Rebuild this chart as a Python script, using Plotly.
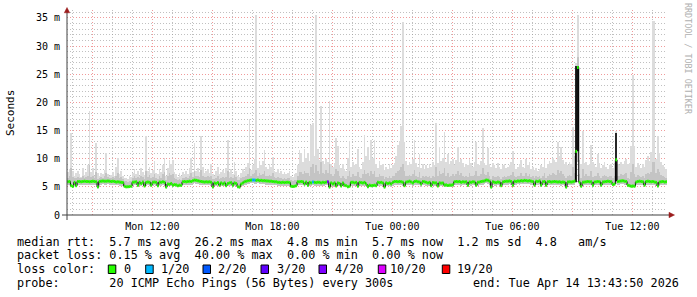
import plotly.graph_objects as go
import pandas as pd

# ---------------- data ----------------
start_time = "2026-04-13 07:44:00"
axis_start = "2026-04-13 07:43:50"
axis_end = "2026-04-14 13:43:50"
step_minutes = 5

median = [
    5.9, 5.95, 5.2, 5.05, 5.8, 5.2, 5.95, 5.95, 5.9, 5.95, 6.0, 5.95,
    5.95, 5.9, 5.95, 6.0, 5.95, 5.9, 4.95, 5.95, 6.0, 6.05, 6.0, 6.0,
    6.05, 6.0, 5.95, 6.0, 5.95, 5.85, 5.9, 5.85, 5.8, 5.75, 5.1, 5.0,
    5.0, 5.05, 5.1, 5.8, 5.85, 5.9, 5.3, 5.8, 5.6, 5.85, 5.15, 5.8,
    5.85, 5.8, 5.3, 5.8, 5.85, 5.8, 5.2, 5.85, 5.8, 5.9, 5.8, 4.95,
    5.5, 5.45, 5.6, 5.3, 5.4, 5.35, 5.2, 5.3, 5.25, 5.9, 5.95, 5.9,
    5.95, 6.0, 5.95, 6.1, 6.2, 6.15, 6.1, 6.0, 5.95, 5.9, 5.85, 5.9,
    5.85, 5.9, 5.8, 4.95, 5.7, 5.6, 5.75, 5.3, 5.7, 5.5, 5.7, 5.2,
    5.6, 5.7, 5.75, 5.3, 5.7, 5.6, 5.0, 4.95, 5.5, 5.7, 5.9, 6.0,
    6.1, 6.15, 6.2, 6.2, 6.2, 6.15, 6.2, 6.1, 6.15, 6.1, 6.1, 6.05,
    6.05, 6.0, 6.0, 5.95, 5.9, 5.9, 5.8, 5.8, 5.75, 5.8, 5.75, 5.8,
    5.8, 5.75, 5.1, 5.05, 5.1, 5.2, 5.9, 5.9, 5.95, 5.9, 5.5, 5.85,
    5.3, 5.8, 5.7, 5.85, 5.8, 5.75, 5.8, 5.8, 5.7, 5.8, 5.75, 5.85,
    5.9, 4.95, 5.7, 5.5, 5.7, 5.15, 5.7, 5.6, 5.15, 5.7, 5.3, 5.2,
    5.0, 5.1, 5.8, 5.8, 5.7, 5.8, 5.1, 5.8, 5.75, 5.7, 5.8, 5.5,
    5.0, 5.3, 5.2, 5.25, 5.3, 5.2, 5.8, 5.75, 5.8, 5.7, 4.95, 5.7,
    5.6, 5.7, 5.5, 5.8, 5.95, 5.95, 5.9, 5.95, 5.9, 5.8, 5.2, 5.85,
    5.9, 6.0, 5.85, 5.7, 5.95, 6.0, 5.9, 5.85, 5.5, 5.95, 5.9, 5.8,
    5.7, 5.8, 5.2, 5.75, 5.7, 5.7, 5.15, 5.7, 5.65, 5.7, 5.3, 5.35,
    5.25, 5.3, 5.3, 5.35, 5.9, 5.95, 5.9, 5.95, 5.8, 5.9, 5.85, 5.9,
    5.3, 5.85, 5.8, 5.9, 5.85, 5.3, 5.8, 5.85, 5.95, 6.0, 6.05, 6.2,
    6.15, 6.0, 4.95, 5.9, 5.8, 5.75, 5.85, 5.8, 5.2, 5.85, 5.95, 6.0,
    6.0, 6.05, 5.95, 5.3, 6.0, 5.95, 6.05, 6.0, 6.1, 6.05, 6.15, 6.1,
    6.05, 6.1, 6.0, 5.95, 5.3, 6.0, 5.95, 6.05, 5.3, 5.9, 5.95, 5.3,
    5.9, 5.95, 5.85, 5.9, 5.95, 5.9, 5.85, 5.9, 5.8, 5.85, 5.8, 4.95,
    5.85, 5.9, 5.85, 5.9, 6.0, 11.3, 26.2, 5.8, 5.1, 5.8, 5.85, 5.9,
    5.95, 5.9, 5.9, 5.3, 5.85, 5.9, 5.95, 5.9, 5.3, 5.85, 5.9, 5.95,
    6.0, 5.95, 5.9, 5.4, 5.5, 9.8, 5.95, 6.0, 6.05, 6.1, 6.0, 5.95,
    5.3, 5.2, 5.1, 5.15, 5.1, 5.85, 5.95, 6.0, 5.95, 5.9, 5.3, 5.95,
    6.0, 5.95, 5.9, 5.95, 5.85, 5.8, 5.15, 5.85, 5.9, 5.95, 5.85, 5.9,
]

ping_min = [
    5.3, 5.4, 4.9, 4.9, 5.3, 4.9, 5.4, 5.3, 5.3, 5.4, 5.4, 5.3,
    5.4, 5.3, 5.4, 5.4, 5.3, 5.3, 4.8, 5.4, 5.4, 5.5, 5.4, 5.4,
    5.5, 5.4, 5.4, 5.4, 5.3, 5.3, 5.3, 5.2, 5.2, 5.2, 4.9, 4.8,
    4.8, 4.9, 4.9, 5.2, 5.3, 5.3, 5.0, 5.2, 5.1, 5.3, 4.9, 5.2,
    5.3, 5.2, 5.0, 5.2, 5.3, 5.2, 4.9, 5.3, 5.2, 5.3, 5.2, 4.8,
    5.1, 5.1, 5.2, 5.0, 5.1, 5.0, 4.9, 5.0, 5.0, 5.3, 5.4, 5.3,
    5.4, 5.4, 5.3, 5.5, 5.6, 5.5, 5.5, 5.4, 5.4, 5.3, 5.3, 5.3,
    5.3, 5.3, 5.2, 4.8, 5.2, 5.1, 5.2, 5.0, 5.2, 5.1, 5.2, 4.9,
    5.1, 5.2, 5.2, 5.0, 5.2, 5.1, 4.8, 4.8, 5.1, 5.2, 5.3, 5.4,
    5.5, 5.5, 5.6, 5.6, 5.5, 5.5, 5.6, 5.5, 5.5, 5.5, 5.5, 5.4,
    5.4, 5.4, 5.4, 5.3, 5.3, 5.3, 5.2, 5.2, 5.2, 5.2, 5.2, 5.2,
    5.2, 5.2, 4.9, 4.8, 4.9, 4.9, 5.3, 5.3, 5.4, 5.3, 5.0, 5.3,
    5.0, 5.2, 5.1, 5.3, 5.2, 5.2, 5.2, 5.2, 5.1, 5.2, 5.2, 5.3,
    5.3, 4.8, 5.1, 5.0, 5.1, 4.9, 5.1, 5.1, 4.9, 5.1, 5.0, 4.9,
    4.8, 4.9, 5.2, 5.2, 5.1, 5.2, 4.9, 5.2, 5.2, 5.1, 5.2, 5.1,
    4.8, 5.0, 4.9, 5.0, 5.0, 4.9, 5.2, 5.2, 5.2, 5.1, 4.8, 5.1,
    5.1, 5.1, 5.0, 5.2, 5.3, 5.3, 5.3, 5.3, 5.3, 5.2, 4.9, 5.3,
    5.3, 5.4, 5.3, 5.1, 5.3, 5.4, 5.3, 5.3, 5.0, 5.3, 5.3, 5.2,
    5.1, 5.2, 4.9, 5.2, 5.1, 5.1, 4.9, 5.1, 5.1, 5.1, 5.0, 5.0,
    5.0, 5.0, 5.0, 5.0, 5.3, 5.4, 5.3, 5.4, 5.2, 5.3, 5.3, 5.3,
    5.0, 5.3, 5.2, 5.3, 5.3, 5.0, 5.2, 5.3, 5.4, 5.4, 5.5, 5.6,
    5.5, 5.4, 4.8, 5.3, 5.2, 5.2, 5.3, 5.2, 4.9, 5.3, 5.4, 5.4,
    5.4, 5.5, 5.4, 5.0, 5.4, 5.4, 5.5, 5.4, 5.5, 5.5, 5.5, 5.5,
    5.5, 5.5, 5.4, 5.4, 5.0, 5.4, 5.4, 5.5, 5.0, 5.3, 5.4, 5.0,
    5.3, 5.4, 5.3, 5.3, 5.4, 5.3, 5.3, 5.3, 5.2, 5.3, 5.2, 4.8,
    5.3, 5.3, 5.3, 5.3, 5.4, 5.6, 9.5, 5.2, 4.9, 5.2, 5.3, 5.3,
    5.4, 5.3, 5.3, 5.0, 5.3, 5.3, 5.4, 5.3, 5.0, 5.3, 5.3, 5.4,
    5.4, 5.4, 5.3, 5.1, 5.1, 5.5, 5.4, 5.4, 5.5, 5.5, 5.4, 5.4,
    5.0, 4.9, 4.9, 4.9, 4.9, 5.3, 5.4, 5.4, 5.4, 5.3, 5.0, 5.4,
    5.4, 5.4, 5.3, 5.4, 5.3, 5.2, 4.9, 5.3, 5.3, 5.4, 5.3, 5.3,
]

ping_max = [
    7.6, 8.2, 14.6, 7.8, 7.0, 7.4, 7.9, 7.2, 6.8, 8.4, 7.1, 7.6,
    8.8, 18.4, 7.7, 8.3, 7.0, 12.8, 7.4, 6.9, 7.5, 7.2, 8.0, 11.0,
    7.3, 6.9, 7.1, 7.6, 7.0, 8.6, 10.2, 7.3, 7.8, 6.9, 6.5, 6.6,
    6.4, 7.0, 6.8, 7.5, 8.1, 7.2, 7.8, 6.9, 8.4, 7.6, 7.1, 14.1,
    7.9, 8.6, 7.4, 8.0, 9.6, 7.5, 7.2, 8.2, 7.6, 8.8, 10.1, 7.0,
    8.4, 9.8, 9.0, 9.8, 7.6, 7.2, 6.8, 7.4, 6.9, 7.7, 7.3, 7.8,
    7.2, 8.3, 10.1, 7.6, 12.8, 7.9, 8.4, 7.7, 14.1, 8.6, 7.5, 7.9,
    8.2, 7.4, 9.0, 7.3, 7.0, 7.9, 8.6, 7.2, 7.6, 8.0, 7.4, 8.3,
    13.4, 7.6, 8.1, 7.3, 9.5, 7.8, 7.0, 6.8, 7.5, 8.2, 7.9, 8.6,
    9.2, 17.0, 8.0, 8.8, 10.0, 35.6, 8.4, 9.6, 8.9, 9.6, 11.5, 8.5,
    8.2, 9.0, 8.6, 10.3, 7.9, 7.6, 8.1, 7.4, 7.8, 7.2, 7.6, 7.3,
    7.5, 7.9, 7.0, 6.8, 7.2, 7.4, 8.8, 11.5, 11.0, 9.4, 11.7, 10.2,
    11.0, 9.6, 16.0, 16.4, 10.5, 35.6, 11.7, 9.8, 19.3, 9.6, 9.0, 10.0,
    9.4, 20.3, 9.0, 8.6, 9.2, 13.7, 12.3, 8.8, 8.4, 9.0, 8.2, 7.8,
    10.1, 13.2, 8.6, 9.4, 8.8, 9.0, 11.7, 8.6, 8.2, 9.4, 14.2, 10.5,
    12.0, 9.8, 13.4, 10.2, 13.4, 9.0, 8.4, 9.6, 8.8, 9.1, 8.0, 8.6,
    8.2, 9.0, 8.4, 8.8, 9.3, 10.4, 12.5, 13.2, 15.8, 34.2, 13.0, 9.6,
    8.8, 9.4, 9.0, 10.0, 13.4, 9.2, 8.6, 10.8, 8.4, 9.0, 8.2, 8.8,
    8.4, 9.0, 8.6, 9.4, 8.8, 16.4, 9.2, 12.1, 9.6, 10.2, 14.7, 9.4,
    10.8, 9.0, 9.6, 10.0, 8.8, 9.8, 12.1, 9.4, 10.0, 9.2, 8.6, 9.0,
    8.8, 10.0, 9.2, 8.6, 9.4, 12.9, 9.0, 8.8, 9.6, 15.4, 9.2, 8.8,
    11.9, 9.0, 8.6, 9.2, 8.8, 8.4, 9.2, 8.6, 8.2, 8.8, 9.0, 8.4,
    8.6, 8.8, 9.4, 11.3, 8.8, 8.2, 8.6, 9.0, 9.7, 8.6, 8.4, 10.0,
    8.8, 9.4, 8.2, 8.6, 8.0, 8.4, 7.8, 8.2, 8.8, 8.6, 10.0, 8.4,
    9.0, 9.6, 9.2, 10.2, 9.8, 9.4, 12.9, 10.4, 12.1, 9.8, 9.0, 9.5,
    8.8, 9.4, 9.0, 15.7, 10.4, 27.0, 35.6, 9.8, 9.0, 14.9, 9.2, 9.5,
    8.8, 9.0, 12.5, 9.4, 9.0, 8.6, 10.8, 9.2, 8.4, 8.8, 9.4, 8.6,
    8.2, 8.8, 9.0, 8.4, 9.2, 14.9, 9.0, 8.8, 9.4, 9.0, 9.6, 10.0,
    9.0, 9.2, 12.3, 24.9, 12.3, 8.6, 9.2, 8.8, 8.4, 9.0, 8.6, 9.8,
    10.4, 9.6, 11.2, 34.4, 34.4, 10.0, 14.1, 11.0, 9.4, 8.8, 8.6, 8.2,
]

band_top = [
    6.6, 6.9, 8.4, 6.8, 6.5, 6.6, 6.8, 6.6, 6.5, 6.9, 6.6, 6.7,
    7.0, 8.8, 6.8, 7.0, 6.6, 7.6, 6.4, 6.6, 6.7, 6.6, 6.9, 7.4,
    6.7, 6.6, 6.6, 6.8, 6.5, 7.0, 7.4, 6.6, 6.7, 6.4, 6.0, 6.0,
    5.9, 6.1, 6.1, 6.6, 6.9, 6.6, 6.8, 6.5, 7.0, 6.7, 6.4, 7.8,
    6.8, 7.1, 6.6, 6.8, 7.2, 6.6, 6.4, 6.9, 6.6, 7.2, 7.6, 6.3,
    7.0, 7.4, 7.1, 7.2, 6.6, 6.4, 6.2, 6.4, 6.2, 6.6, 6.6, 6.7,
    6.6, 6.9, 7.4, 6.8, 7.8, 6.9, 7.0, 6.8, 8.0, 7.0, 6.7, 6.8,
    6.9, 6.7, 7.0, 6.4, 6.4, 6.6, 6.9, 6.4, 6.6, 6.7, 6.5, 6.8,
    7.8, 6.6, 6.8, 6.5, 7.1, 6.7, 6.3, 6.2, 6.5, 6.8, 6.8, 7.0,
    7.2, 8.4, 6.9, 7.2, 7.4, 8.0, 7.0, 7.4, 7.1, 7.3, 7.8, 7.0,
    6.9, 7.1, 6.9, 7.4, 6.7, 6.6, 6.7, 6.5, 6.6, 6.4, 6.5, 6.4,
    6.5, 6.6, 6.2, 6.0, 6.2, 6.3, 6.9, 7.6, 7.6, 7.2, 7.8, 7.4,
    7.4, 7.0, 8.6, 9.0, 7.4, 8.8, 7.8, 7.2, 9.4, 7.4, 7.2, 8.0,
    7.4, 9.0, 7.2, 6.9, 7.2, 8.2, 7.8, 6.9, 6.6, 7.0, 6.6, 6.4,
    7.0, 7.8, 6.8, 7.2, 6.9, 7.0, 7.6, 6.8, 6.6, 7.2, 8.0, 7.2,
    7.4, 7.0, 7.8, 7.2, 7.8, 6.8, 6.8, 7.2, 6.9, 7.0, 6.4, 6.8,
    6.6, 6.9, 6.6, 6.9, 7.0, 7.4, 7.8, 8.0, 8.6, 9.0, 7.8, 7.0,
    6.9, 7.1, 6.9, 7.2, 8.0, 7.0, 6.8, 7.6, 6.6, 7.0, 6.7, 6.9,
    6.7, 6.9, 6.5, 7.0, 6.8, 8.6, 7.0, 7.8, 7.2, 7.4, 8.4, 7.0,
    7.4, 6.8, 7.0, 7.2, 7.0, 7.2, 7.8, 7.1, 7.4, 7.0, 6.8, 7.0,
    6.7, 7.4, 7.0, 6.9, 7.1, 7.8, 6.9, 6.9, 7.2, 8.4, 7.2, 7.1,
    7.6, 7.0, 6.4, 7.0, 6.8, 6.7, 7.0, 6.8, 6.4, 6.8, 7.0, 6.8,
    6.9, 7.0, 7.1, 7.6, 6.9, 6.7, 6.9, 7.0, 7.4, 6.9, 6.9, 7.4,
    7.0, 7.2, 6.8, 6.9, 6.5, 6.9, 6.7, 6.9, 6.6, 6.9, 7.4, 6.6,
    7.0, 7.2, 7.1, 7.4, 7.3, 7.1, 8.0, 7.4, 7.8, 7.2, 7.0, 6.6,
    6.9, 7.1, 7.0, 8.6, 7.4, 12.0, 28.0, 7.2, 6.6, 8.2, 7.0, 7.2,
    7.0, 7.0, 7.8, 6.8, 7.0, 6.9, 7.4, 7.0, 6.6, 6.9, 7.1, 6.9,
    6.8, 7.0, 7.0, 6.6, 7.0, 14.6, 7.0, 7.0, 7.2, 7.1, 7.2, 7.4,
    6.6, 6.4, 7.6, 9.0, 7.2, 6.8, 7.1, 7.0, 6.8, 7.0, 6.6, 7.2,
    7.4, 7.2, 7.6, 9.4, 9.4, 7.4, 8.2, 7.6, 7.1, 6.9, 6.8, 6.6,
]

# dense (dark) smoke cores
core_steps = [305, 306, 329]
core_lo = [5.8, 11.3, 6.0]
core_hi = [26.4, 26.4, 14.6]

# steps with packet loss (lost pings out of 20)
loss_steps = [111, 112, 147, 156]
loss_counts = [1, 1, 1, 8]

loss_thresholds = [0, 1, 2, 3, 4, 10, 19]
loss_labels = ["0", "1/20", "2/20", "3/20", "4/20", "10/20", "19/20"]
loss_colors = ["#26ff00", "#00b8ff", "#0059ff", "#5e00ff", "#7e00ff", "#dd00ff", "#ff0000"]

y_tick_values = [0, 5, 10, 15, 20, 25, 30, 35]
y_tick_labels = ["0", "5 m", "10 m", "15 m", "20 m", "25 m", "30 m", "35 m"]
y_minor_values = [1, 2, 3, 4, 6, 7, 8, 9, 11, 12, 13, 14, 16, 17, 18, 19,
                  21, 22, 23, 24, 26, 27, 28, 29, 31, 32, 33, 34, 36]
x_tick_values = ["2026-04-13 09:00", "2026-04-13 12:00", "2026-04-13 15:00", "2026-04-13 18:00",
                 "2026-04-13 21:00", "2026-04-14 00:00", "2026-04-14 03:00", "2026-04-14 06:00",
                 "2026-04-14 09:00", "2026-04-14 12:00"]
x_tick_labels = ["", "Mon 12:00", "", "Mon 18:00", "", "Tue 00:00", "", "Tue 06:00", "", "Tue 12:00"]
x_minor_values = ["2026-04-13 08:00", "2026-04-13 10:00", "2026-04-13 11:00", "2026-04-13 13:00",
                  "2026-04-13 14:00", "2026-04-13 16:00", "2026-04-13 17:00", "2026-04-13 19:00",
                  "2026-04-13 20:00", "2026-04-13 22:00", "2026-04-13 23:00", "2026-04-14 01:00",
                  "2026-04-14 02:00", "2026-04-14 04:00", "2026-04-14 05:00", "2026-04-14 07:00",
                  "2026-04-14 08:00", "2026-04-14 10:00", "2026-04-14 11:00", "2026-04-14 13:00"]

legend_lines = [
    "median rtt:  5.7 ms avg  26.2 ms max  4.8 ms min  5.7 ms now  1.2 ms sd  4.8   am/s",
    "packet loss: 0.15 % avg  40.00 % max  0.00 % min  0.00 % now",
]
probe_text = "probe:       20 ICMP Echo Pings (56 Bytes) every 300s"
end_text = "end: Tue Apr 14 13:43:50 2026"

# ---------------- geometry ----------------
W, H = 697, 297
ML, MR, MT, MB = 67, 30, 10, 82
PW, PH = W - ML - MR, H - MT - MB


def px(x):
    return (x - ML) / PW


def py(y):
    return (H - MB - y) / PH


step = pd.Timedelta(minutes=step_minutes)
t0 = pd.Timestamp(start_time)
times = [t0 + step * i for i in range(len(median))]
centers = [t + step / 2 for t in times]
step_ms = step_minutes * 60 * 1000

fig = go.Figure()

# smoke: full range (light)
fig.add_trace(go.Bar(x=centers, y=[mx - mn for mx, mn in zip(ping_max, ping_min)], base=ping_min,
                     width=step_ms, marker=dict(color="#dcdcdc", line=dict(width=0)), hoverinfo="skip"))
# smoke: inner band (medium)
fig.add_trace(go.Bar(x=centers, y=[b - mn for b, mn in zip(band_top, ping_min)], base=ping_min,
                     width=step_ms, marker=dict(color="#c4c4c4", line=dict(width=0)), hoverinfo="skip"))
# smoke: dense cores (dark)
fig.add_trace(go.Bar(x=[centers[i] for i in core_steps], y=[h - l for h, l in zip(core_hi, core_lo)],
                     base=core_lo, width=step_ms, marker=dict(color="#262626", line=dict(width=0)),
                     hoverinfo="skip"))

# black median connector line
fig.add_trace(go.Scatter(x=times + [times[-1] + step], y=median + [median[-1]], mode="lines",
                         line=dict(color="black", width=1, shape="hv"), hoverinfo="skip"))

# median coloured by loss
loss_at = dict(zip(loss_steps, loss_counts))


def color_index(lost):
    idx = 0
    for k, th in enumerate(loss_thresholds):
        if lost >= th:
            idx = k
    return idx


groups = {}
for i, m in enumerate(median):
    ci = color_index(loss_at.get(i, 0))
    gx, gy = groups.setdefault(ci, ([], []))
    gx += [times[i], times[i] + step, None]
    gy += [m, m, None]
for ci, (gx, gy) in sorted(groups.items()):
    fig.add_trace(go.Scatter(x=gx, y=gy, mode="lines", line=dict(color=loss_colors[ci], width=3),
                             hoverinfo="skip"))

major_grid = "rgba(235,120,120,0.75)"
minor_grid = "rgba(150,150,150,0.6)"
tick_font = dict(family="DejaVu Sans Mono", size=10, color="#000000")

fig.update_layout(
    width=W, height=H, margin=dict(l=ML, r=MR, t=MT, b=MB),
    paper_bgcolor="white", plot_bgcolor="white",
    showlegend=False, barmode="overlay", bargap=0, hovermode=False,
    xaxis=dict(type="date", range=[axis_start, axis_end], tickmode="array",
               tickvals=x_tick_values, ticktext=x_tick_labels, tickfont=tick_font,
               showgrid=True, gridcolor=major_grid, griddash="1px,2px", gridwidth=1,
               ticks="outside", ticklen=2, tickcolor="rgba(0,0,0,0)",
               minor=dict(tickmode="array", tickvals=x_minor_values, showgrid=True,
                          gridcolor=minor_grid, griddash="1px,2px", gridwidth=1, ticks=""),
               showline=False, zeroline=False, fixedrange=True),
    yaxis=dict(range=[0, 36.4], tickmode="array", tickvals=y_tick_values, ticktext=y_tick_labels,
               tickfont=tick_font, showgrid=True, gridcolor=major_grid, griddash="1px,2px",
               ticks="outside", ticklen=4, tickcolor="rgba(0,0,0,0)",
               minor=dict(tickmode="array", tickvals=y_minor_values, showgrid=True,
                          gridcolor=minor_grid, griddash="1px,2px", ticks=""),
               showline=False, zeroline=False, fixedrange=True),
)

axis_col = "#404040"
arrow_col = "#9b1c1c"
shapes = [
    dict(type="line", xref="paper", yref="paper", x0=px(62), x1=px(669), y0=py(215), y1=py(215),
         line=dict(color=axis_col, width=1)),
    dict(type="line", xref="paper", yref="paper", x0=px(67), x1=px(67), y0=py(220), y1=py(12),
         line=dict(color=axis_col, width=1)),
    dict(type="path", xref="paper", yref="paper",
         path=f"M {px(64.3)} {py(12.8)} L {px(69.7)} {py(12.8)} L {px(67)} {py(7.5)} Z",
         fillcolor=arrow_col, line=dict(color=arrow_col, width=0.5)),
    dict(type="path", xref="paper", yref="paper",
         path=f"M {px(669)} {py(212.3)} L {px(669)} {py(217.7)} L {px(674.5)} {py(215)} Z",
         fillcolor=arrow_col, line=dict(color=arrow_col, width=0.5)),
]

legend_font = dict(family="DejaVu Sans Mono", size=11.8, color="#000000")
box_x = [108.3, 145.7, 203.0, 261.0, 319.0, 378.3, 442.3]
label_x = [122.8, 159.6, 217.3, 275.5, 333.5, 389.0, 456.4]
for bx, col in zip(box_x, loss_colors):
    shapes.append(dict(type="rect", xref="paper", yref="paper", x0=px(bx), x1=px(bx + 7.5),
                       y0=py(273.5), y1=py(265), fillcolor=col, line=dict(color="black", width=1)))

nb = "\u00a0"
annotations = []
line_y = [241.5, 255.0]
for txt, yy in zip(legend_lines, line_y):
    annotations.append(dict(text=txt.replace(" ", nb), x=px(15), y=py(yy), xref="paper", yref="paper",
                            xanchor="left", yanchor="middle", showarrow=False, font=legend_font))
annotations.append(dict(text="loss color:".replace(" ", nb), x=px(15), y=py(269.3), xref="paper",
                        yref="paper", xanchor="left", yanchor="middle", showarrow=False, font=legend_font))
for lx, lab in zip(label_x, loss_labels):
    annotations.append(dict(text=lab, x=px(lx - 1), y=py(269.3), xref="paper", yref="paper",
                            xanchor="left", yanchor="middle", showarrow=False, font=legend_font))
annotations.append(dict(text=probe_text.replace(" ", nb), x=px(15), y=py(282.5), xref="paper",
                        yref="paper", xanchor="left", yanchor="middle", showarrow=False, font=legend_font))
annotations.append(dict(text=end_text.replace(" ", nb), x=px(681), y=py(282.5), xref="paper",
                        yref="paper", xanchor="right", yanchor="middle", showarrow=False, font=legend_font))
annotations.append(dict(text="Seconds", x=px(10), y=py(113), xref="paper", yref="paper",
                        xanchor="center", yanchor="middle", textangle=-90, showarrow=False,
                        font=dict(family="DejaVu Sans Mono", size=11, color="#000000")))
annotations.append(dict(text="RRDTOOL / TOBI OETIKER".replace(" ", nb), x=px(688), y=py(59),
                        xref="paper", yref="paper", xanchor="center", yanchor="middle", textangle=90,
                        showarrow=False, font=dict(family="DejaVu Sans Mono", size=8.4, color="#b0b0b0")))

fig.update_layout(shapes=shapes, annotations=annotations)
fig.write_html("out.html", config={"displayModeBar": False, "staticPlot": True})
